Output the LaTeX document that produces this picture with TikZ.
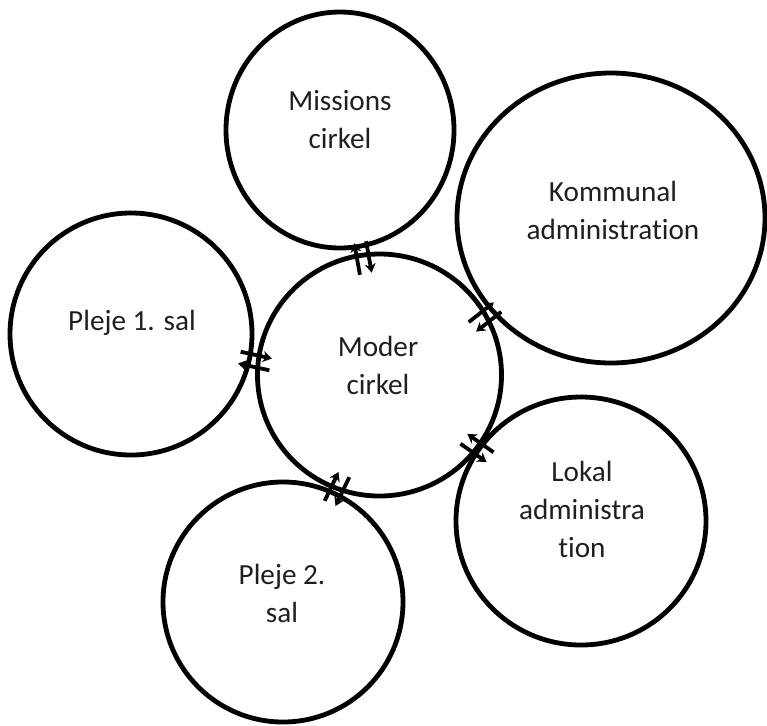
\documentclass[tikz,border=0pt]{standalone}
\usepackage{fontspec}
\setmainfont{Carlito}[Ligatures=NoCommon]
\usetikzlibrary{shapes.geometric,arrows.meta,calc}
\tikzset{
  ring/.style={draw, ellipse, line width=2.4pt, inner sep=0pt},
  txt/.style={align=center, font=\fontsize{14.6}{19}\selectfont, text=black!88},
  link/.style={line width=1.9pt, -{Stealth[length=4.5pt,width=5.5pt]}}
}
\begin{document}
\begin{tikzpicture}[x=0.5pt,y=-0.5pt]
  \useasboundingbox (0,0) rectangle (767,725);
  %Circles
  \node[ring, minimum width=114pt, minimum height=118pt] at (340,130)   (missions) {};
  \node[ring, minimum width=154pt, minimum height=145pt] at (611,218)   (kommunal) {};
  \node[ring, minimum width=121pt, minimum height=121pt] at (131,334)   (pleje1)   {};
  \node[ring, minimum width=122pt, minimum height=121pt] at (379.5,375) (moder)    {};
  \node[ring, minimum width=125pt, minimum height=124pt] at (581,521)   (lokal)    {};
  \node[ring, minimum width=120pt, minimum height=120pt] at (283,602)   (pleje2)   {};

  %Texts
  \node[txt] at (340,120) (missionsTxt) {Missions\\cirkel};
  \node[txt] at (613,210) (kommunalTxt) {Kommunal\\administration};
  \node[txt] at (132,323) (pleje1Txt)   {Pleje 1. sal};
  \node[txt] at (378,365) (moderTxt)    {Moder\\cirkel};
  \node[txt] at (582,509) (lokalTxt)    {Lokal\\administra\\tion};
  \node[txt] at (282,593) (pleje2Txt)   {Pleje 2.\\sal};

  %Links
  \foreach \o/\px/\py/\a/\b in {missions/363/258/90/-90, kommunal/485/317/90/-90,
      pleje1/255/361/90/-90, lokal/477/448/-90/90, pleje2/337/489/90/-90}{
    \coordinate (\o-c) at (\px,\py);
    \coordinate (\o-f) at ($(\o-c)!8pt!(\o)$);
    \coordinate (\o-b) at ($(\o-c)!-8pt!(\o)$);
    \coordinate (\o-f1) at ($(\o-f)!3pt!\b:(\o-b)$);
    \coordinate (\o-b1) at ($(\o-b)!3pt!\a:(\o-f)$);
    \coordinate (\o-f2) at ($(\o-f)!3pt!\a:(\o-b)$);
    \coordinate (\o-b2) at ($(\o-b)!3pt!\b:(\o-f)$);
    \draw[link] (\o-b1) -- (\o-f1);
    \draw[link] (\o-f2) -- (\o-b2);
  }
\end{tikzpicture}
\end{document}
